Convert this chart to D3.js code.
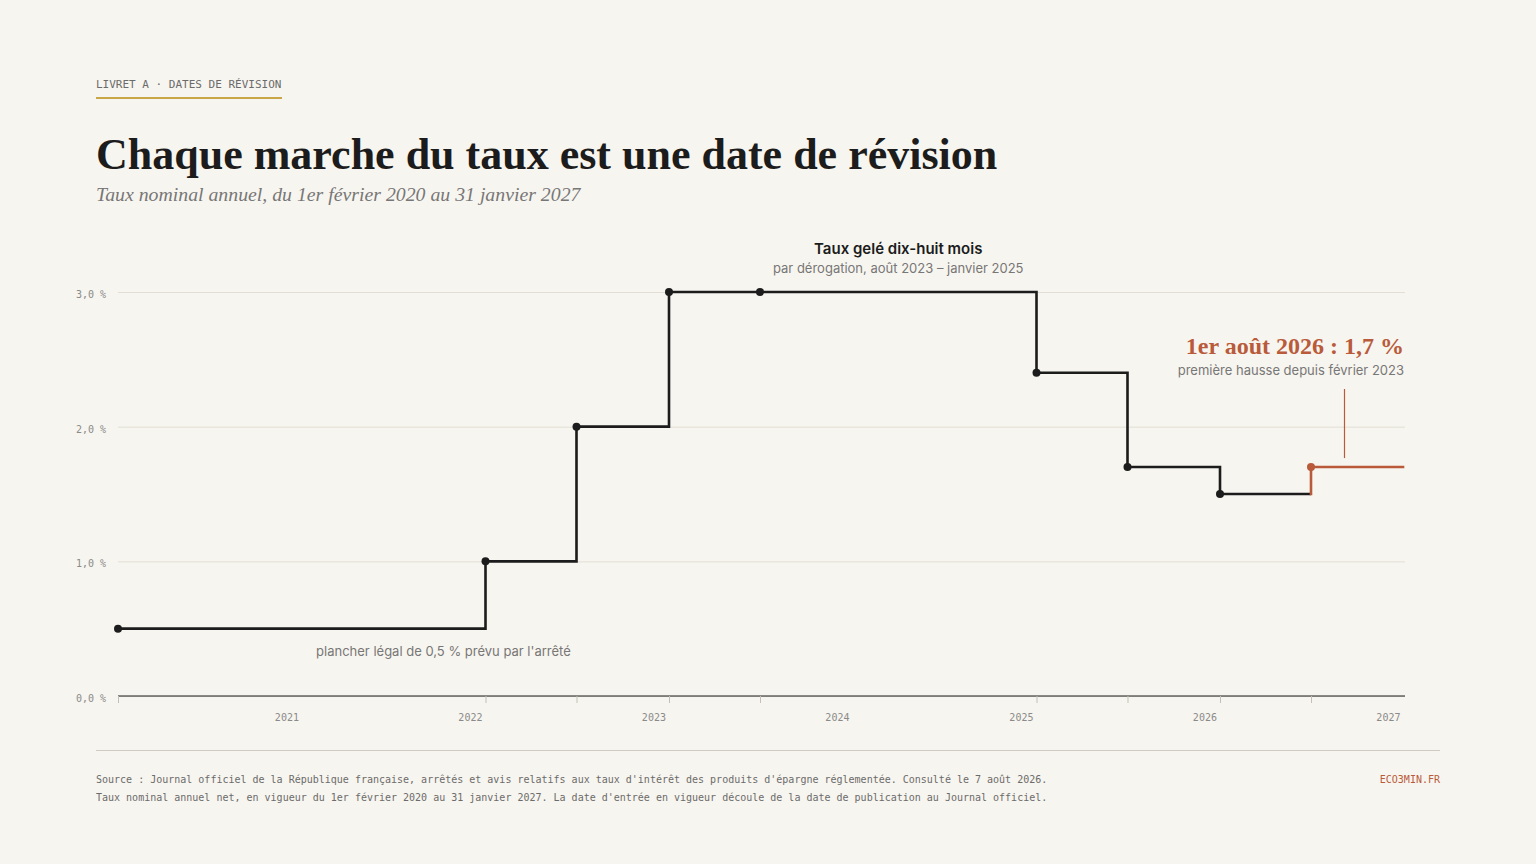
<!DOCTYPE html>
<html lang="fr">
<head>
<meta charset="utf-8">
<script src="https://cdn.jsdelivr.net/npm/d3@7"></script>
<style>
  html, body { margin: 0; padding: 0; background: #f7f5ef; }
  svg { display: block; }
</style>
</head>
<body>
<div id="chart"></div>
<script>
// Livret A : dates de révision et taux en vigueur
const revisionDates = ["2020-02-01", "2022-02-01", "2022-08-01", "2023-02-01", "2023-08-01",
                       "2025-02-01", "2025-08-01", "2026-02-01", "2026-08-01"]
const rates = [0.5, 1.0, 2.0, 3.0, 3.0, 2.4, 1.7, 1.5, 1.7]
const periodEnd = "2027-01-31"
const yearTicks = ["2021-01-01", "2022-01-01", "2023-01-01", "2024-01-01", "2025-01-01", "2026-01-01", "2027-01-01"]
const rateTicks = [0, 1, 2, 3]

const parse = d3.timeParse("%Y-%m-%d")
const data = revisionDates.map((d, i) => ({ date: parse(d), value: rates[i] }))
const end = parse(periodEnd)

const width = 1536,
    height = 864,
    margin = { top: 292, right: 133, bottom: 168, left: 118 },
    plotRight = 1405,
    ink = "#1c1c1c",
    accent = "#b95b3b",
    grey = "#777",
    mono = "'DejaVu Sans Mono', monospace",
    sans = "Inter, 'Noto Sans', sans-serif",
    serif = "'Liberation Serif', 'DejaVu Serif', serif"

const x = d3.scaleTime()
    .domain([data[0].date, end])
    .range([margin.left, width - margin.right])

const y = d3.scaleLinear()
    .domain([0, 3])
    .range([height - margin.bottom, margin.top])

const svg = d3.select("#chart").append("svg")
    .attr("width", width)
    .attr("height", height)

svg.append("rect").attr("width", width).attr("height", height).attr("fill", "#f7f5ef")

// header
svg.append("text")
    .attr("x", 96).attr("y", 88)
    .style("font", `11px ${mono}`)
    .attr("fill", "#6b6b6b")
    .text("LIVRET A · DATES DE RÉVISION")
svg.append("rect")
    .attr("x", 96).attr("y", 97).attr("width", 186).attr("height", 2)
    .attr("fill", "#c9a646")

svg.append("text")
    .attr("x", 96).attr("y", 169)
    .style("font", `600 44px ${serif}`)
    .attr("fill", ink)
    .text("Chaque marche du taux est une date de révision")

svg.append("text")
    .attr("x", 96).attr("y", 201)
    .style("font", `italic 19.8px ${serif}`)
    .attr("fill", grey)
    .text("Taux nominal annuel, du 1er février 2020 au 31 janvier 2027")

// y grid + labels
const yAxis = g => g
    .attr("transform", `translate(${margin.left},0)`)
    .call(d3.axisLeft(y).tickValues(rateTicks)
        .tickSize(-(plotRight - margin.left))
        .tickPadding(12)
        .tickFormat(d => d3.format(".1f")(d).replace(".", ",") + " %"))
    .call(g => g.select(".domain").remove())
    .call(g => g.selectAll(".tick line").attr("stroke", "#e2ded5"))
    .call(g => g.selectAll(".tick text")
        .attr("fill", "#8a8a8a")
        .attr("dy", "0.55em")
        .style("font", `10px ${mono}`))

svg.append("g").call(yAxis)

// x axis: baseline, ticks at revisions, year labels
svg.append("line")
    .attr("x1", margin.left).attr("x2", plotRight)
    .attr("y1", y(0)).attr("y2", y(0))
    .attr("stroke", ink).attr("stroke-width", 1)

svg.append("g")
    .attr("transform", `translate(0,${y(0)})`)
    .call(d3.axisBottom(x).tickValues(data.map(d => d.date)).tickSize(7).tickFormat(""))
    .call(g => g.select(".domain").remove())
    .call(g => g.selectAll(".tick line").attr("stroke", "#c4c0b8"))

svg.append("g")
    .attr("transform", `translate(0,${y(0)})`)
    .call(d3.axisBottom(x).tickValues(yearTicks.map(parse)).tickSize(0).tickPadding(18)
        .tickFormat(d3.timeFormat("%Y")))
    .call(g => g.select(".domain").remove())
    .call(g => g.selectAll(".tick text")
        .attr("fill", "#8a8a8a")
        .style("font", `10px ${mono}`))

// step line
const last = data.length - 1
const black = data.slice(0, last).concat([{ date: data[last].date, value: data[last - 1].value }])
const orange = [
    { date: data[last].date, value: data[last - 1].value },
    data[last],
    { date: end, value: data[last].value }
]

const line = d3.line()
    .x(d => x(d.date))
    .y(d => y(d.value))
    .curve(d3.curveStepAfter)

svg.append("path")
    .datum(black)
    .attr("fill", "none")
    .attr("stroke", ink)
    .attr("stroke-width", 2.6)
    .attr("d", line)

svg.append("path")
    .datum(orange)
    .attr("fill", "none")
    .attr("stroke", accent)
    .attr("stroke-width", 2.6)
    .attr("stroke-linecap", "square")
    .attr("d", d3.line().x(d => x(d.date)).y(d => y(d.value)).curve(d3.curveStepBefore))

svg.append("g")
    .selectAll("circle")
    .data(data)
    .join("circle")
    .attr("cx", d => x(d.date))
    .attr("cy", d => y(d.value))
    .attr("r", 4)
    .attr("fill", (d, i) => i === last ? accent : ink)

// annotations
const freezeMid = new Date((data[4].date.getTime() + data[5].date.getTime()) / 2)
svg.append("text")
    .attr("x", x(freezeMid)).attr("y", 254)
    .attr("text-anchor", "middle")
    .style("font", `600 15px ${sans}`)
    .attr("fill", ink)
    .text("Taux gelé dix-huit mois")
svg.append("text")
    .attr("x", x(freezeMid)).attr("y", 273)
    .attr("text-anchor", "middle")
    .style("font", `13px ${sans}`)
    .attr("fill", grey)
    .text("par dérogation, août 2023 – janvier 2025")

svg.append("text")
    .attr("x", x(parse("2021-03-01"))).attr("y", 656)
    .style("font", `13px ${sans}`)
    .attr("fill", grey)
    .text("plancher légal de 0,5 % prévu par l'arrêté")

svg.append("text")
    .attr("x", plotRight - 1).attr("y", 354)
    .attr("text-anchor", "end")
    .style("font", `bold 24px ${serif}`)
    .attr("fill", accent)
    .text("1er août 2026 : 1,7 %")
svg.append("text")
    .attr("x", plotRight - 1).attr("y", 375)
    .attr("text-anchor", "end")
    .style("font", `13px ${sans}`)
    .attr("fill", grey)
    .text("première hausse depuis février 2023")
const pointerX = Math.round(x(parse("2026-10-05"))) + 0.5
svg.append("line")
    .attr("x1", pointerX).attr("x2", pointerX)
    .attr("y1", 389).attr("y2", y(data[last].value) - 9)
    .attr("stroke", accent).attr("stroke-width", 1.2)

// footer
svg.append("line")
    .attr("x1", 96).attr("x2", 1440).attr("y1", 750.5).attr("y2", 750.5)
    .attr("stroke", "#cfcbc2")

const footer = [
    "Source : Journal officiel de la République française, arrêtés et avis relatifs aux taux d'intérêt des produits d'épargne réglementée. Consulté le 7 août 2026.",
    "Taux nominal annuel net, en vigueur du 1er février 2020 au 31 janvier 2027. La date d'entrée en vigueur découle de la date de publication au Journal officiel."
]
svg.append("g")
    .selectAll("text")
    .data(footer)
    .join("text")
    .attr("x", 96)
    .attr("y", (d, i) => 783 + i * 18)
    .style("font", `10px ${mono}`)
    .attr("fill", "#6b6b6b")
    .text(d => d)

svg.append("text")
    .attr("x", 1440).attr("y", 783)
    .attr("text-anchor", "end")
    .style("font", `10px ${mono}`)
    .attr("fill", accent)
    .text("ECO3MIN.FR")
</script>
</body>
</html>
